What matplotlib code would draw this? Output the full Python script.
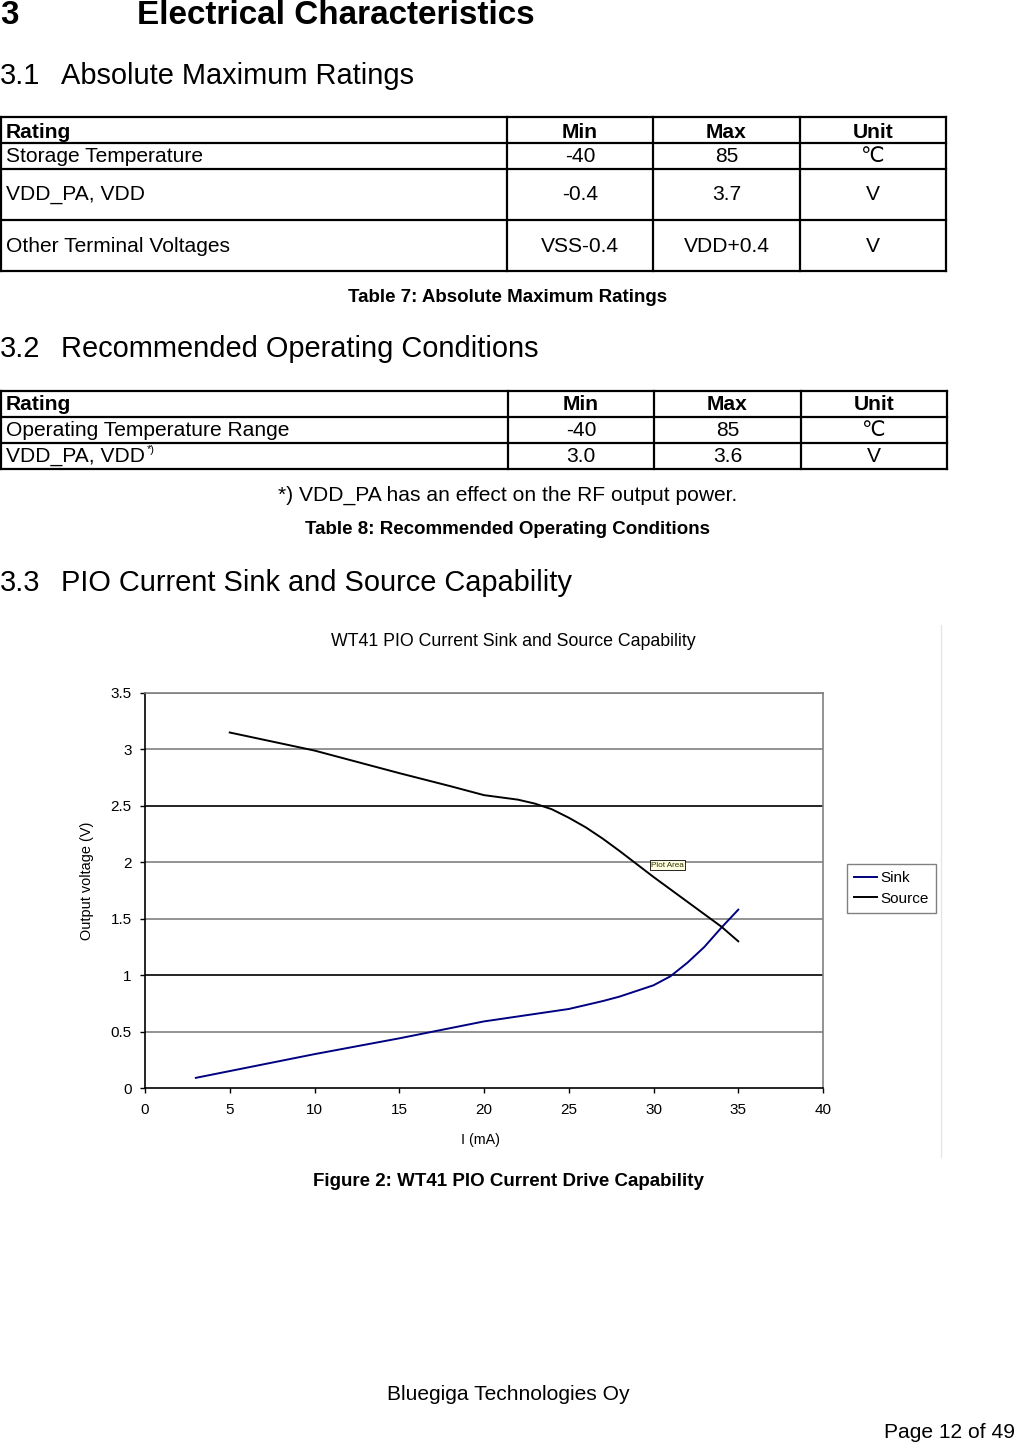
import matplotlib
matplotlib.use("Agg")
import matplotlib.pyplot as plt

plt.rcParams["font.family"] = ["Liberation Sans", "DejaVu Sans"]

W, H = 1015, 1443
PT = 0.72  # points per pixel at dpi 100

# table 7
abs_header = ["Rating", "Min", "Max", "Unit"]
abs_rows = [
    ["Storage Temperature", "-40", "85", "\u2103"],
    ["VDD_PA, VDD", "-0.4", "3.7", "V"],
    ["Other Terminal Voltages", "VSS-0.4", "VDD+0.4", "V"],
]
# table 8
rec_header = ["Rating", "Min", "Max", "Unit"]
rec_rows = [
    ["Operating Temperature Range", "-40", "85", "\u2103"],
    ["VDD_PA, VDD", "3.0", "3.6", "V"],
]

# PIO drive curves
sink_ma = [3, 5, 10, 15, 20, 25, 27, 28, 29, 30, 31, 32, 33, 34, 35]
sink_v = [0.09, 0.15, 0.30, 0.44, 0.59, 0.70, 0.77, 0.81, 0.86, 0.91, 0.99, 1.11, 1.25, 1.42, 1.58]
source_ma = [5, 10, 15, 18, 20, 21, 22, 23, 24, 25, 26, 27, 28, 30, 32, 34, 35]
source_v = [3.15, 2.99, 2.79, 2.675, 2.595, 2.575, 2.555, 2.52, 2.47, 2.395, 2.31, 2.21, 2.10,
            1.87, 1.65, 1.43, 1.30]

x_ticks = [0, 5, 10, 15, 20, 25, 30, 35, 40]
y_ticks = [0, 0.5, 1, 1.5, 2, 2.5, 3, 3.5]
y_tick_labels = ["0", "0.5", "1", "1.5", "2", "2.5", "3", "3.5"]

BODY = 21 * PT
HEAD2 = 29 * PT
CAPTION = 18.8 * PT


def draw_table(ax, row_y, col_x, header, rows, text_y):
    for y in row_y:
        ax.plot([col_x[0], col_x[-1]], [y, y], color="black", lw=1.6, solid_capstyle="projecting")
    for x in col_x:
        ax.plot([x, x], [row_y[0], row_y[-1]], color="black", lw=1.6, solid_capstyle="projecting")
    for r, cells in enumerate([header] + rows):
        weight = "bold" if r == 0 else "normal"
        ty = text_y[r]
        ax.text(col_x[0] + 5, ty, cells[0], fontsize=BODY, fontweight=weight,
                ha="left", va="center")
        for c in range(1, 4):
            cx = (col_x[c] + col_x[c + 1]) / 2
            ax.text(cx, ty, cells[c], fontsize=BODY, fontweight=weight,
                    ha="center", va="center")


fig = plt.figure(figsize=(W / 100, H / 100), dpi=100)
page = fig.add_axes([0, 0, 1, 1])
page.set_xlim(0, W)
page.set_ylim(H, 0)
page.axis("off")

page.text(0, 16, "3", fontsize=33.3 * PT, fontweight="bold", va="center")
page.text(137, 16, "Electrical Characteristics", fontsize=33.3 * PT, fontweight="bold",
          va="center")
page.text(0, 76, "3.1", fontsize=HEAD2, va="center")
page.text(61, 76, "Absolute Maximum Ratings", fontsize=HEAD2, va="center")

draw_table(page, [117, 143, 169, 220, 271], [1, 507, 653, 800, 946],
           abs_header, abs_rows, [132, 157, 194, 246])
page.text(508, 297, "Table 7: Absolute Maximum Ratings", fontsize=CAPTION,
          fontweight="bold", ha="center", va="center")

page.text(0, 349, "3.2", fontsize=HEAD2, va="center")
page.text(61, 349, "Recommended Operating Conditions", fontsize=HEAD2, va="center")

draw_table(page, [391, 417, 443, 469], [1, 508, 654, 801, 947],
           rec_header, rec_rows, [405, 431, 457])
page.text(147, 450, "*)", fontsize=11 * PT, va="center")
page.text(508, 495, "*) VDD_PA has an effect on the RF output power.", fontsize=BODY,
          ha="center", va="center")
page.text(508, 530, "Table 8: Recommended Operating Conditions", fontsize=CAPTION,
          fontweight="bold", ha="center", va="center")

page.text(0, 583, "3.3", fontsize=HEAD2, va="center")
page.text(61, 583, "PIO Current Sink and Source Capability", fontsize=HEAD2, va="center")

# chart frame edge and chart texts
page.plot([941, 941], [625, 1157], color="#e6e6e6", lw=1)
page.text(513, 641, "WT41 PIO Current Sink and Source Capability", fontsize=17.8 * PT,
          ha="center", va="center")
page.text(87, 881, "Output voltage (V)", fontsize=14.5 * PT, rotation=90,
          ha="center", va="center")
page.text(481, 1140, "I (mA)", fontsize=14.3 * PT, ha="center", va="center")

page.text(508, 1181, "Figure 2: WT41 PIO Current Drive Capability", fontsize=CAPTION,
          fontweight="bold", ha="center", va="center")
page.text(508, 1395, "Bluegiga Technologies Oy", fontsize=BODY, ha="center", va="center")
page.text(1015, 1432, "Page 12 of 49", fontsize=BODY, ha="right", va="center")

ax = fig.add_axes([145 / W, 1 - 1088 / H, 678 / W, 395 / H])
ax.set_xlim(0, 40)
ax.set_ylim(0, 3.5)
for yv in y_ticks[1:]:
    dark = yv in (1, 2.5)
    ax.axhline(yv, color="black" if dark else "#808080", lw=1.2, zorder=1)
sink_line, = ax.plot(sink_ma, sink_v, color="#000080", lw=1.4, zorder=3, label="Sink")
source_line, = ax.plot(source_ma, source_v, color="black", lw=1.4, zorder=3, label="Source")

ax.set_xticks(x_ticks)
ax.set_yticks(y_ticks)
ax.set_yticklabels(y_tick_labels)
ax.tick_params(axis="both", direction="out", length=5 * PT, width=1, labelsize=15.3 * PT)
ax.tick_params(axis="y", pad=6)
ax.tick_params(axis="x", pad=7.5)
ax.spines["left"].set_color("black")
ax.spines["bottom"].set_color("black")
ax.spines["top"].set_color("#808080")
ax.spines["right"].set_color("#808080")
for s in ax.spines.values():
    s.set_linewidth(1.2)

leg = fig.legend(handles=[sink_line, source_line], loc="upper left",
                 bbox_to_anchor=(847 / W, 1 - 864 / H), fontsize=15.3 * PT,
                 frameon=True, fancybox=False, edgecolor="#808080", framealpha=1,
                 handlelength=1.5, handletextpad=0.25, borderpad=0.45, labelspacing=0.45,
                 borderaxespad=0)
leg.get_frame().set_linewidth(1)

fig.text(651 / W, 1 - 865 / H, "Plot Area", fontsize=8.2 * PT, va="center", ha="left",
         color="#333300",
         bbox=dict(boxstyle="square,pad=0.15", facecolor="#ffffe1", edgecolor="black", lw=0.6))

fig.savefig("out.png", dpi=100)
